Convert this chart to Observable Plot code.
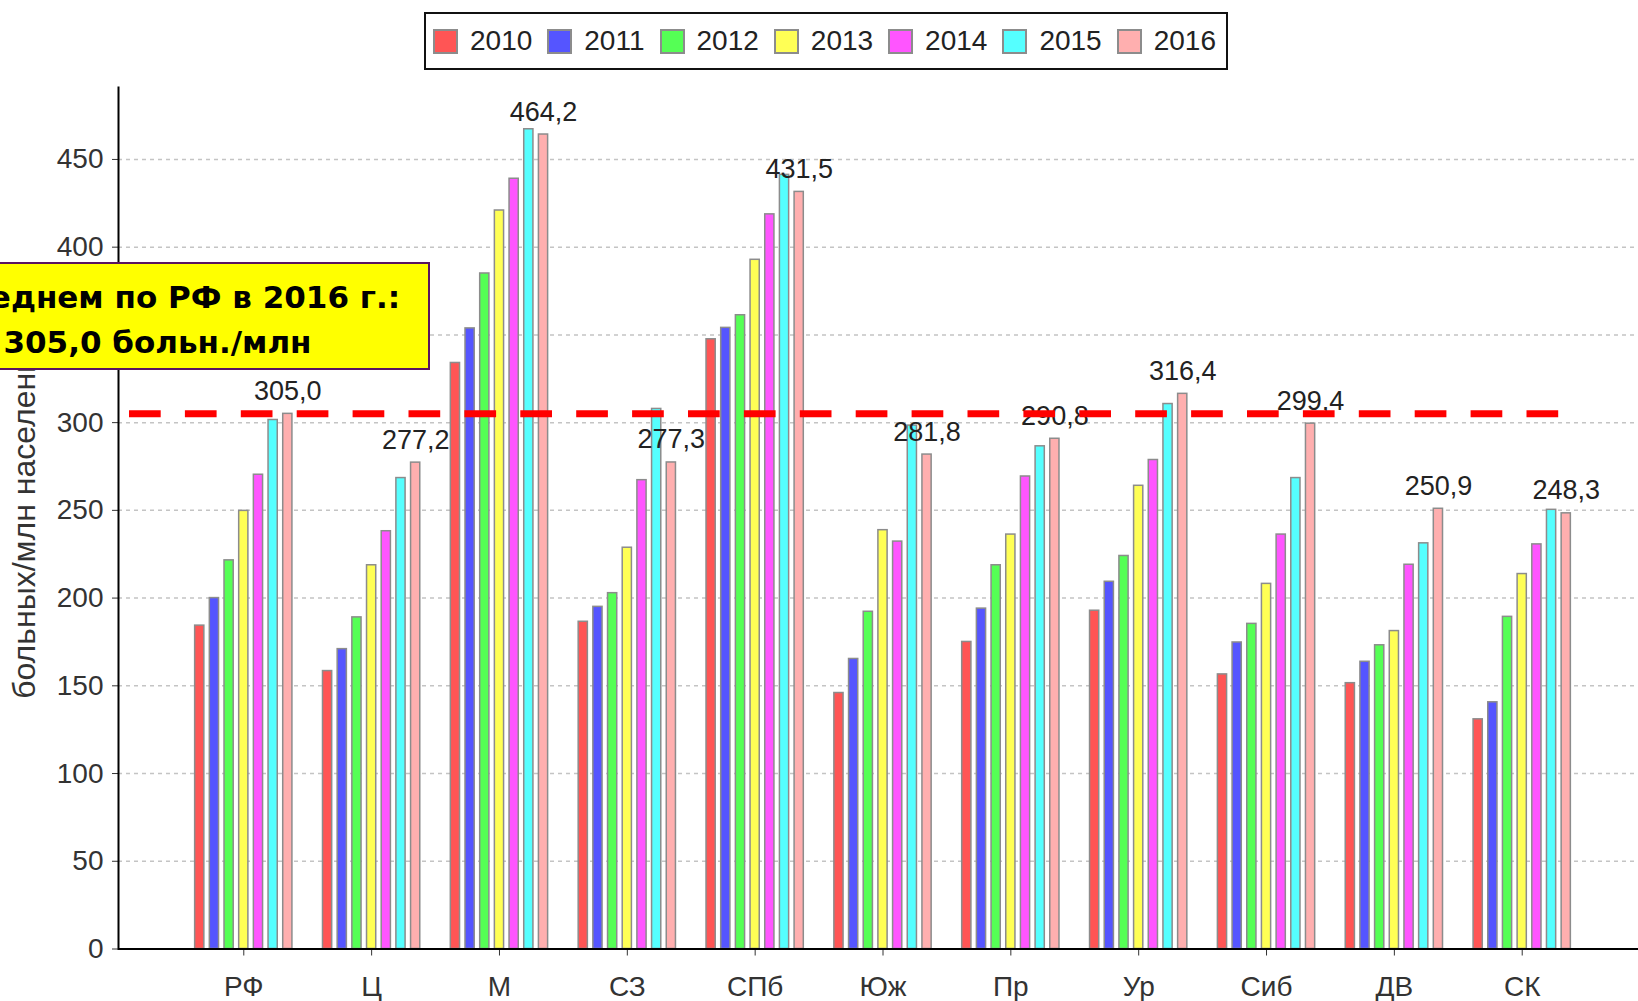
<!DOCTYPE html>
<html>
<head>
<meta charset="utf-8">
<script src="https://cdn.jsdelivr.net/npm/d3@7"></script>
<script src="https://cdn.jsdelivr.net/npm/@observablehq/plot@0.6"></script>
<style>
  html, body { margin: 0; padding: 0; background: #fff; overflow: hidden; }
  #wrap { position: relative; width: 1638px; height: 1001px; }
  .layer { position: absolute; left: 0; top: 0; }
  #legend {
    position: absolute; left: 424px; top: 12px; width: 793px; height: 54px;
    border: 2.5px solid #111; background: #fff; display: flex; align-items: center;
    padding-left: 7px; box-sizing: content-box;
    font-family: "Liberation Sans", Arial, sans-serif; font-size: 28px; color: #222;
  }
  .item { display: flex; align-items: center; margin-right: 15px; }
  .sw { width: 21px; height: 21px; border: 2px solid #8c8c8c; margin-right: 12px; }
  #note {
    position: absolute; left: -115px; top: 262px; width: 541px; height: 93px;
    padding-top: 11px; background: #ffff00; border: 2px solid #5a1460;
    font-family: "DejaVu Sans", sans-serif; font-weight: bold; font-size: 31px;
    line-height: 44.7px; text-align: center; color: #000; white-space: nowrap;
  }
</style>
</head>
<body>
<div id="wrap">
  <div id="layerBg" class="layer"></div>
  <div id="layerMain" class="layer"></div>
  <div id="layerTop" class="layer"></div>
  <div id="legend"></div>
  <div id="note"></div>
</div>
<script>
// ---- data ----
const regions = ["РФ", "Ц", "М", "СЗ", "СПб", "Юж", "Пр", "Ур", "Сиб", "ДВ", "СК"];
const years = ["2010", "2011", "2012", "2013", "2014", "2015", "2016"];
const v2010 = [184.3, 158.4, 334.0, 186.5, 347.5, 145.9, 175.0, 192.8, 156.5, 151.5, 130.9];
const v2011 = [200.0, 170.9, 353.7, 195.0, 354.0, 165.3, 194.0, 209.3, 174.7, 163.7, 140.6];
const v2012 = [221.5, 189.0, 385.0, 202.8, 361.2, 192.2, 218.7, 224.0, 185.3, 173.1, 189.3];
const v2013 = [249.7, 218.7, 420.9, 228.7, 392.8, 238.7, 236.2, 264.0, 208.1, 181.2, 213.7];
const v2014 = [270.3, 238.1, 439.0, 267.2, 418.7, 232.2, 269.3, 278.7, 236.2, 219.0, 230.6];
const v2015 = [301.5, 268.4, 467.2, 307.8, 441.2, 298.3, 286.5, 310.6, 268.4, 231.2, 250.3];
const v2016 = [305.0, 277.2, 464.2, 277.3, 431.5, 281.8, 290.8, 316.4, 299.4, 250.9, 248.3];
const yearColors = ["#ff5555", "#5555ff", "#55ff55", "#ffff55", "#ff55ff", "#55ffff", "#ffafaf"];
const yTicks = [0, 50, 100, 150, 200, 250, 300, 350, 400, 450];
const averageRF = 305.0;
const yLabel = "больных/млн населения";
const noteLines = ["В среднем по РФ в 2016 г.:", "305,0 больн./млн"];

// ---- table built from arrays ----
const series = [v2010, v2011, v2012, v2013, v2014, v2015, v2016];
const rows = [];
regions.forEach((r, i) => years.forEach((y, j) => rows.push({region: r, year: y, value: series[j][i]})));
const lastRows = rows.filter(d => d.year === years[years.length - 1]);
const fmt = v => d3.format(".1f")(v).replace(".", ",");

// shared layout so the three layers use identical scales
const base = {
  width: 1638,
  height: 1001,
  marginTop: 87,
  marginBottom: 52.5,
  marginLeft: 118,
  marginRight: -9,
  style: {fontFamily: "'Liberation Sans', Arial, sans-serif", fontSize: "28px", color: "#333", background: "transparent", overflow: "visible"},
  y: {domain: [0, 491], label: null, axis: null}
};

// background layer: grid and y axis
const chartBg = Plot.plot({
  ...base,
  marks: [
    Plot.ruleY(yTicks, {stroke: "#c4c4c4", strokeWidth: 1.5, strokeDasharray: "4,4"}),
    Plot.axisY({ticks: yTicks, tickSize: 6, tickPadding: 9, label: null, fontSize: 28, color: "#333"}),
    Plot.text([yLabel], {frameAnchor: "left", rotate: -90, textAnchor: "middle", lineAnchor: "middle", dx: -94, fontSize: 32, fill: "#333"})
  ]
});

// main layer: grouped bars
const chartMain = Plot.plot({
  ...base,
  fx: {domain: regions, paddingInner: 0.22, paddingOuter: 0.59, round: false, label: null},
  x: {domain: years, paddingInner: 0.373, paddingOuter: 0.083, round: false, axis: null},
  color: {domain: years, range: yearColors},
  marks: [
    Plot.barY(rows, {fx: "region", x: "year", y: "value", fill: "year", stroke: "#8c8c8c", strokeWidth: 1.5}),
    Plot.text(lastRows, {fx: "region", x: "year", y: "value", text: d => fmt(d.value), lineAnchor: "bottom", dy: -14, fontSize: 27, fill: "#222"}),
    Plot.axisFx({anchor: "bottom", tickSize: 7, tickPadding: 20, label: null, fontSize: 28, color: "#333"})
  ]
});

// top layer: average line and axis lines
const chartTop = Plot.plot({
  ...base,
  marks: [
    Plot.ruleY([averageRF], {stroke: "#ff0000", strokeWidth: 7, strokeDasharray: "31.7,24.2", insetLeft: 11, insetRight: 86}),
    Plot.ruleY([0], {stroke: "#000", strokeWidth: 2}),
    Plot.frame({anchor: "left", stroke: "#000", strokeWidth: 2})
  ]
});

document.getElementById("layerBg").appendChild(chartBg);
document.getElementById("layerMain").appendChild(chartMain);
document.getElementById("layerTop").appendChild(chartTop);

// legend
const legendBox = document.getElementById("legend");
years.forEach((y, j) => {
  const it = document.createElement("div");
  it.className = "item";
  const sw = document.createElement("div");
  sw.className = "sw";
  sw.style.background = yearColors[j];
  const tx = document.createElement("span");
  tx.textContent = y;
  it.appendChild(sw); it.appendChild(tx);
  legendBox.appendChild(it);
});

// annotation box
const noteBox = document.getElementById("note");
noteLines.forEach(l => { const d = document.createElement("div"); d.textContent = l; noteBox.appendChild(d); });
</script>
</body>
</html>
